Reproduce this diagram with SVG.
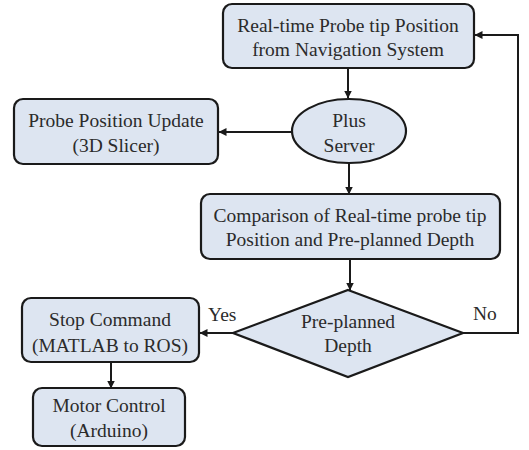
<svg xmlns="http://www.w3.org/2000/svg" width="529" height="450" viewBox="0 0 529 450">
  <style>
    .box { fill: #dde5f1; stroke: #1a1a1a; stroke-width: 2.2; }
    .lbl { font-family: 'Liberation Serif', 'Times New Roman', serif; font-size: 19.5px; fill: #2b2b2b; text-anchor: middle; }
    .side { font-family: 'Liberation Serif', 'Times New Roman', serif; font-size: 19.5px; fill: #2b2b2b; }
    .wire { fill: none; stroke: #1a1a1a; stroke-width: 2; marker-end: url(#tip); }
  </style>
  <defs>
    <marker id="tip" viewBox="0 0 8 8" refX="7.5" refY="4" markerWidth="4" markerHeight="4" orient="auto" markerUnits="strokeWidth">
      <path d="M0,0 L8,4 L0,8 z" fill="#1a1a1a"/>
    </marker>
  </defs>
  <rect width="529" height="450" fill="#ffffff"/>

  <g id="connectors">
    <path class="wire" d="M348,68 L348,98"/>
    <path class="wire" d="M292,132 L219,132"/>
    <path class="wire" d="M349,163 L349,194"/>
    <path class="wire" d="M350,259 L350,290"/>
    <path class="wire" d="M233,333 L200,333"/>
    <path class="wire" d="M463,333 L518,333 L518,35 L475,35"/>
    <path class="wire" d="M111,362 L111,388"/>
    <text class="side" x="208" y="321">Yes</text>
    <text class="side" x="473" y="320">No</text>
  </g>

  <g id="navigation">
    <rect class="box" x="223" y="4" width="251" height="64" rx="9"/>
    <text class="lbl" x="348" y="32">Real-time Probe tip Position</text>
    <text class="lbl" x="348" y="56">from Navigation System</text>
  </g>

  <g id="plus-server">
    <ellipse class="box" cx="349" cy="131" rx="57" ry="32"/>
    <text class="lbl" x="349" y="127">Plus</text>
    <text class="lbl" x="349" y="152">Server</text>
  </g>

  <g id="slicer">
    <rect class="box" x="14" y="99" width="204" height="65" rx="9"/>
    <text class="lbl" x="116" y="127">Probe Position Update</text>
    <text class="lbl" x="116" y="152">(3D Slicer)</text>
  </g>

  <g id="comparison">
    <rect class="box" x="201" y="194" width="299" height="65" rx="9"/>
    <text class="lbl" x="350" y="222">Comparison of Real-time probe tip</text>
    <text class="lbl" x="350" y="246">Position and Pre-planned Depth</text>
  </g>

  <g id="decision">
    <path class="box" d="M348,290 L463,333 L348,377 L233,333 Z"/>
    <text class="lbl" x="348" y="328">Pre-planned</text>
    <text class="lbl" x="348" y="352">Depth</text>
  </g>

  <g id="stop">
    <rect class="box" x="22" y="298" width="177" height="64" rx="9"/>
    <text class="lbl" x="110" y="326">Stop Command</text>
    <text class="lbl" x="110" y="352">(MATLAB to ROS)</text>
  </g>

  <g id="motor">
    <rect class="box" x="33" y="388" width="152" height="58" rx="9"/>
    <text class="lbl" x="109" y="412">Motor Control</text>
    <text class="lbl" x="109" y="437">(Arduino)</text>
  </g>
</svg>
